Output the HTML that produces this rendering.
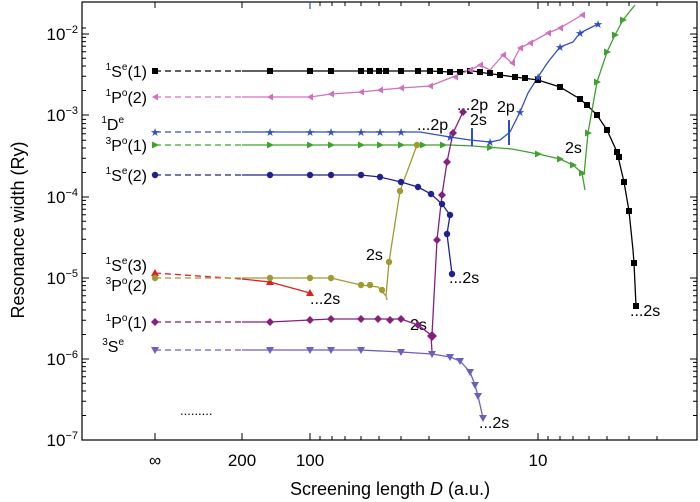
<!DOCTYPE html>
<html><head><meta charset="utf-8"><style>
body{margin:0;background:#fff}
svg{display:block;font-family:"Liberation Sans",Arial,sans-serif}
</style></head><body>
<svg width="700" height="502" viewBox="0 0 700 502" xmlns="http://www.w3.org/2000/svg">
<rect width="700" height="502" fill="#fff"/>
<g stroke="#000" stroke-width="1.2" fill="none">
<rect x="82" y="2" width="615" height="438"/>
</g>
<g stroke="#000" stroke-width="1">
<path d="M82 440h7M82 359h7M82 278h7M82 197h7M82 115h7M82 34h7M697 359h-7M697 278h-7M697 197h-7M697 115h-7M697 34h-7"/>
<path id="ym" d="M82 415.5h4M82 401.2h4M82 391h4M82 383.2h4M82 376.7h4M82 371.3h4M82 366.6h4M82 362.4h4"/>
<use href="#ym" y="-81"/><use href="#ym" y="-162"/><use href="#ym" y="-243"/><use href="#ym" y="-325"/>
<use href="#ym" x="611"/><use href="#ym" x="611" y="-81"/><use href="#ym" x="611" y="-162"/><use href="#ym" x="611" y="-243"/><use href="#ym" x="611" y="-325"/>
<path d="M82 28h4M697 28h-4"/>
<path d="M155 440v-7M242 440v-7M310 440v-7M538 440v-7M155 2v6M242 2v6M538 2v7"/>
<path d="M320 440v-4M332 440v-4M345 440v-4M361 440v-4M379 440v-4M401 440v-4M429 440v-4M469 440v-4M548 440v-4M560 440v-4M573 440v-4M589 440v-4M607 440v-4M629 440v-4M657 440v-4M697 440v-4"/>
<path d="M320 2v4M332 2v4M345 2v4M361 2v4M379 2v4M401 2v4M429 2v4M469 2v4M548 2v4M560 2v4M573 2v4M589 2v4M607 2v4M629 2v4M657 2v4"/>
</g>
<path d="M310 2v7" stroke="#3050c0" stroke-width="1.2"/>
<g font-size="17" fill="#000">
<text x="78" y="40" text-anchor="end">10<tspan dy="-7" font-size="11">−2</tspan></text>
<text x="78" y="121" text-anchor="end">10<tspan dy="-7" font-size="11">−3</tspan></text>
<text x="78" y="203" text-anchor="end">10<tspan dy="-7" font-size="11">−4</tspan></text>
<text x="78" y="284" text-anchor="end">10<tspan dy="-7" font-size="11">−5</tspan></text>
<text x="78" y="365" text-anchor="end">10<tspan dy="-7" font-size="11">−6</tspan></text>
<text x="78" y="446" text-anchor="end">10<tspan dy="-7" font-size="11">−7</tspan></text>
<text x="155" y="466" text-anchor="middle">∞</text>
<text x="242" y="466" text-anchor="middle">200</text>
<text x="310" y="466" text-anchor="middle">100</text>
<text x="538" y="466" text-anchor="middle">10</text>
<text x="390" y="495" text-anchor="middle" font-size="18">Screening length <tspan font-style="italic">D</tspan> (a.u.)</text>
<text transform="translate(24,230) rotate(-90)" text-anchor="middle" font-size="18">Resonance width (Ry)</text>
</g>
<g font-size="16" fill="#000" text-anchor="end">
<text x="147" y="77"><tspan font-size="10" dy="-7">1</tspan><tspan dy="7">S</tspan><tspan font-size="10" dy="-7">e</tspan><tspan dy="7">(1)</tspan></text>
<text x="147" y="103"><tspan font-size="10" dy="-7">1</tspan><tspan dy="7">P</tspan><tspan font-size="10" dy="-7">o</tspan><tspan dy="7">(2)</tspan></text>
<text x="124" y="130"><tspan font-size="10" dy="-7">1</tspan><tspan dy="7">D</tspan><tspan font-size="10" dy="-7">e</tspan></text>
<text x="147" y="151"><tspan font-size="10" dy="-7">3</tspan><tspan dy="7">P</tspan><tspan font-size="10" dy="-7">o</tspan><tspan dy="7">(1)</tspan></text>
<text x="147" y="181"><tspan font-size="10" dy="-7">1</tspan><tspan dy="7">S</tspan><tspan font-size="10" dy="-7">e</tspan><tspan dy="7">(2)</tspan></text>
<text x="147" y="271"><tspan font-size="10" dy="-7">1</tspan><tspan dy="7">S</tspan><tspan font-size="10" dy="-7">e</tspan><tspan dy="7">(3)</tspan></text>
<text x="147" y="291"><tspan font-size="10" dy="-7">3</tspan><tspan dy="7">P</tspan><tspan font-size="10" dy="-7">o</tspan><tspan dy="7">(2)</tspan></text>
<text x="147" y="328"><tspan font-size="10" dy="-7">1</tspan><tspan dy="7">P</tspan><tspan font-size="10" dy="-7">o</tspan><tspan dy="7">(1)</tspan></text>
<text x="124" y="352"><tspan font-size="10" dy="-7">3</tspan><tspan dy="7">S</tspan><tspan font-size="10" dy="-7">e</tspan></text>
</g>
<g font-size="16" fill="#000">
<text x="310" y="304">...2s</text>
<text x="449" y="283">...2s</text>
<text x="479" y="428">...2s</text>
<text x="630" y="316">...2s</text>
<text x="366" y="260">2s</text>
<text x="410" y="330">2s</text>
<text x="565" y="153">2s</text>
<text x="417" y="130">...2p</text>
<text x="457" y="110">...2p</text>
<text x="470" y="125">2s</text>
<text x="497" y="112">2p</text>
<text x="180" y="415" font-size="13">.........</text>
</g>
<g fill="none" stroke-width="1.3" stroke-dasharray="6,4">
<path d="M155 71H242" stroke="#000"/>
<path d="M155 97H242" stroke="#d070c0"/>
<path d="M155 132H242" stroke="#3050c0"/>
<path d="M155 145H242" stroke="#40a030"/>
<path d="M155 175H242" stroke="#202090"/>
<path d="M155 273L242 279" stroke="#e02020"/>
<path d="M155 278H242" stroke="#a09a30"/>
<path d="M155 322H242" stroke="#8a2040"/>
<path d="M155 350H242" stroke="#6a60c0"/>
</g>
<g fill="none" stroke-width="1.3">
<path d="M242 71H430L450 72 473 71 485 73 500 75 515 77 538 80 560 87 580 99 587 105 597 115 607 130 617 152 624 182 629 211 633 250 634 263 636 306" stroke="#000"/>
<path d="M242 97H270L310 97 331 94 361 92 380 90 401 88 430 86 455 76 470 70 480 65 490 70 503 55 512 63 520 48 530 43 548 33 560 28 582 15" stroke="#d070c0"/>
<path d="M242 132H420L450 137 470 140 490 142 500 140 510 132 520 112 528 93 538 77 548 62 560 47 573 42 580 33 598 24" stroke="#3050c0"/>
<path d="M242 145H450L473 146 512 149 538 154 560 159 573 165 582 173 585 190 M584 175L588 133 597 82 607 52 615 35 623 20 635 5" stroke="#40a030"/>
<path d="M242 175H361L380 177 401 182 418 187 431 194 442 204 450 215 447 234 452 274" stroke="#202090"/>
<path d="M242 279L270 282 310 293" stroke="#e02020"/>
<path d="M242 278H331L361 285 378 287 386 296 387 300 M386 296L389 262 400 191 417 145" stroke="#a09a30"/>
<path d="M242 322H270L310 320 331 319 401 319 418 325 431 335 432 352 M432 335L437 240 442 195 447 162 453 133 463 112" stroke="#852080"/>
<path d="M242 350H360L401 352 432 354 450 357 460 361 470 372 475 385 478 396 483 418" stroke="#6a60c0"/>
<path d="M472 128v18M509 120v25" stroke="#3050c0" stroke-width="2"/>
</g>
<g fill="#000">
<rect x="152" y="68" width="6" height="6"/>
<rect x="267" y="68" width="6" height="6"/><rect x="307" y="68" width="6" height="6"/><rect x="328" y="68" width="6" height="6"/><rect x="358" y="68" width="6" height="6"/><rect x="367" y="68" width="6" height="6"/><rect x="376" y="68" width="6" height="6"/><rect x="383" y="68" width="6" height="6"/><rect x="398" y="68" width="6" height="6"/><rect x="415" y="68" width="6" height="6"/><rect x="427" y="68" width="6" height="6"/>
<rect x="437" y="68" width="6" height="6"/><rect x="447" y="69" width="6" height="6"/><rect x="457" y="69" width="6" height="6"/><rect x="467" y="68" width="6" height="6"/><rect x="477" y="69" width="6" height="6"/><rect x="487" y="70" width="6" height="6"/><rect x="497" y="72" width="6" height="6"/><rect x="512" y="74" width="6" height="6"/><rect x="522" y="75" width="6" height="6"/><rect x="535" y="77" width="6" height="6"/><rect x="557" y="84" width="6" height="6"/><rect x="577" y="96" width="6" height="6"/><rect x="584" y="102" width="6" height="6"/><rect x="594" y="112" width="6" height="6"/><rect x="604" y="127" width="6" height="6"/><rect x="614" y="149" width="6" height="6"/><rect x="616" y="154" width="6" height="6"/><rect x="621" y="179" width="6" height="6"/><rect x="626" y="208" width="6" height="6"/><rect x="631" y="260" width="6" height="6"/><rect x="633" y="303" width="6" height="6"/>
</g>
<g fill="#d070c0"><path d="M152 97l6-3.5v7z"/><path d="M267 97l6-3.5v7zM307 97l6-3.5v7zM328 94l6-3.5v7zM358 92l6-3.5v7zM377 90l6-3.5v7zM398 88l6-3.5v7zM427 86l6-3.5v7zM452 77l6-3.5v7zM467 70l6-3.5v7zM477 65l6-3.5v7zM500 55l6-3.5v7zM509 63l6-3.5v7zM517 48l6-3.5v7zM527 43l6-3.5v7zM545 33l6-3.5v7zM557 28l6-3.5v7zM579 15l6-3.5v7z"/></g>
<g fill="#3050c0" font-size="11" text-anchor="middle">
<text x="155" y="136">★</text><text x="270" y="136">★</text><text x="310" y="136">★</text><text x="331" y="136">★</text><text x="361" y="136">★</text><text x="380" y="136">★</text><text x="401" y="136">★</text><text x="450" y="141">★</text><text x="490" y="146">★</text><text x="520" y="116">★</text><text x="538" y="81">★</text><text x="560" y="51">★</text><text x="580" y="37">★</text><text x="598" y="28">★</text>
</g>
<g fill="#40a030"><path d="M152 141.5l7 3.5-7 3.5z"/><path d="M267 141.5l7 3.5-7 3.5zM307 141.5l7 3.5-7 3.5zM328 141.5l7 3.5-7 3.5zM358 141.5l7 3.5-7 3.5zM377 141.5l7 3.5-7 3.5zM398 141.5l7 3.5-7 3.5zM420 141.5l7 3.5-7 3.5zM440 141.5l7 3.5-7 3.5zM487 144l7 3.5-7 3.5zM535 150.5l7 3.5-7 3.5zM557 155.5l7 3.5-7 3.5zM570 161.5l7 3.5-7 3.5zM579 169.5l7 3.5-7 3.5zM585 129.5l7 3.5-7 3.5zM594 78.5l7 3.5-7 3.5zM604 48.5l7 3.5-7 3.5zM612 31.5l7 3.5-7 3.5zM620 16.5l7 3.5-7 3.5z"/></g>
<g fill="#202090"><circle cx="155" cy="175" r="3.2"/><circle cx="270" cy="175" r="3.2"/><circle cx="310" cy="175" r="3.2"/><circle cx="331" cy="175" r="3.2"/><circle cx="361" cy="175" r="3.2"/><circle cx="380" cy="177" r="3.2"/><circle cx="401" cy="182" r="3.2"/><circle cx="418" cy="187" r="3.2"/><circle cx="431" cy="194" r="3.2"/><circle cx="442" cy="204" r="3.2"/><circle cx="450" cy="215" r="3.2"/><circle cx="447" cy="234" r="3.2"/><circle cx="452" cy="274" r="3.2"/></g>
<g fill="#e02020"><path d="M155 269l4 7h-8zM270 278l4 7h-8zM310 289l4 7h-8z"/></g>
<g fill="#a09a30"><circle cx="155" cy="278" r="3.2"/><circle cx="270" cy="278" r="3.2"/><circle cx="310" cy="278" r="3.2"/><circle cx="331" cy="278" r="3.2"/><circle cx="361" cy="285" r="3.2"/><circle cx="370" cy="285" r="3.2"/><circle cx="382" cy="290" r="3.2"/><circle cx="389" cy="262" r="3.2"/><circle cx="400" cy="191" r="3.2"/><circle cx="417" cy="145" r="3.2"/></g>
<g fill="#852080"><path d="M155 318l4 4-4 4-4-4zM270 318l4 4-4 4-4-4zM310 316l4 4-4 4-4-4zM331 315l4 4-4 4-4-4zM361 315l4 4-4 4-4-4zM378 315l4 4-4 4-4-4zM390 316l4 4-4 4-4-4zM401 315l4 4-4 4-4-4zM418 321l4 4-4 4-4-4zM432 331l5 5-5 5-5-5zM437 236l4 4-4 4-4-4zM442 191l4 4-4 4-4-4zM447 158l4 4-4 4-4-4zM453 129l4 4-4 4-4-4zM463 108l4 4-4 4-4-4z"/></g>
<g fill="#6a60c0"><path d="M151 347h8l-4 7zM266 347h8l-4 7zM306 347h8l-4 7zM327 347h8l-4 7zM357 347h8l-4 7zM397 349h8l-4 7zM428 351h8l-4 7zM446 354h8l-4 7zM456 358h8l-4 7zM466 369h8l-4 7zM471 382h8l-4 7zM474 393h8l-4 7zM479 415h8l-4 7z"/></g>
</svg>
</body></html>
